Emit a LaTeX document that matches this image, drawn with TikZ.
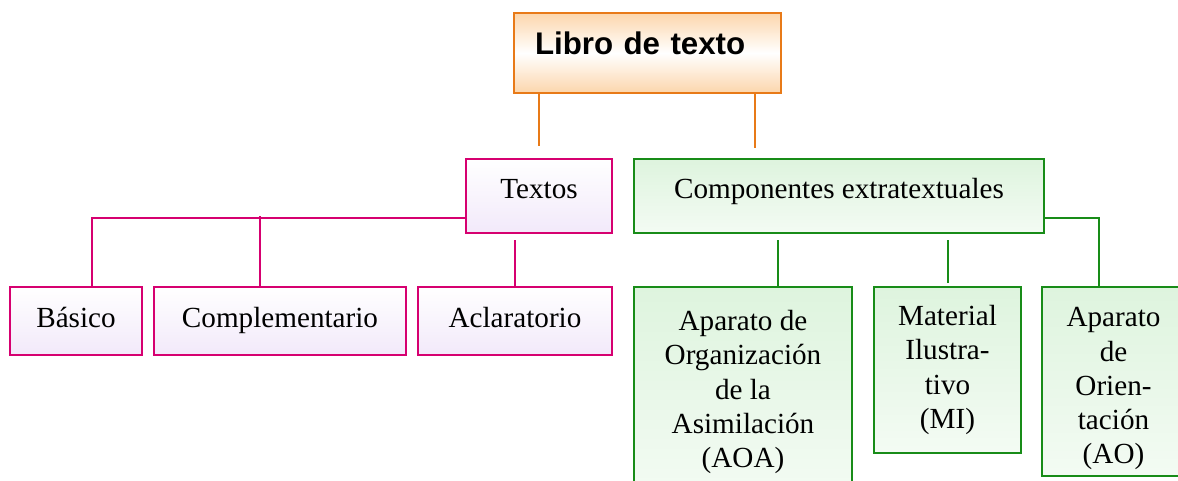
\documentclass[tikz,border=0pt]{standalone}
\usepackage{fontspec}
\setmainfont{Liberation Serif}
\newfontfamily\sansbold{Liberation Sans}
\usepackage{tikz}
\usetikzlibrary{calc}
\definecolor{naranjaborde}{RGB}{232,122,24}
\definecolor{naranjafondo}{RGB}{252,214,172}
\definecolor{rosaborde}{RGB}{214,0,112}
\definecolor{rosafondo}{RGB}{242,233,250}
\definecolor{verdeborde}{RGB}{24,140,24}
\definecolor{verdefondo}{RGB}{222,244,222}
\tikzstyle{naranja} = [
    rectangle,
    draw = naranjaborde,
    line width = 0.9pt,
    top color = naranjafondo,
    bottom color = naranjafondo,
    middle color = white,
]
\tikzstyle{rosa} = [
    rectangle,
    draw = rosaborde,
    line width = 0.9pt,
    top color = white,
    bottom color = rosafondo,
    inner ysep = 0pt,
    font = \fontsize{16.6}{19.3}\selectfont,
]
\tikzstyle{verde} = [
    rectangle,
    draw = verdeborde,
    line width = 0.9pt,
    top color = verdefondo,
    bottom color = verdefondo!35!white,
    align = center,
    font = \fontsize{16.6}{19.5}\selectfont,
]
\tikzstyle{lnaranja} = [draw = naranjaborde, line width = 0.9pt]
\tikzstyle{lrosa} = [draw = rosaborde, line width = 0.9pt]
\tikzstyle{lverde} = [draw = verdeborde, line width = 0.9pt]
\begin{document}
\begin{tikzpicture}
    \useasboundingbox (0,0) rectangle (23.56,9.62);

    \node (libro) [naranja, text width = 4.5cm, align = left, inner xsep = 0.42cm, inner ysep = 0pt, text height = 0.84cm, text depth = 0.76cm, font = \sansbold\bfseries\fontsize{17.8}{20}\selectfont] at (12.95,8.56) {Libro de texto};

    \node (textos) [rosa, minimum width = 2.92cm, text height = 0.8cm, text depth = 0.68cm] at (10.78,5.70) {Textos};
    \node (compon) [verde, minimum width = 8.2cm, inner ysep = 0pt, text height = 0.8cm, text depth = 0.68cm] at (16.78,5.70) {Componentes extratextuales};

    \node (basico) [rosa, minimum width = 2.64cm, text height = 0.82cm, text depth = 0.54cm] at (1.52,3.2) {Básico};
    \node (complem) [rosa, minimum width = 5.04cm, text height = 0.82cm, text depth = 0.54cm] at (5.6,3.2) {Complementario};
    \node (aclar) [rosa, minimum width = 3.88cm, text height = 0.82cm, text depth = 0.54cm] at (10.30,3.2) {Aclaratorio};

    \node (aoa) [verde, minimum width = 4.36cm, minimum height = 4.2cm] at (14.86,1.78) {Aparato de\\Organización\\de la\\Asimilación\\(AOA)};
    \node (mi) [verde, minimum width = 2.94cm, minimum height = 3.32cm] at (18.95,2.22) {Material\\Ilustra-\\tivo\\(MI)};
    \node (ao) [verde, minimum width = 2.86cm, minimum height = 3.78cm] at (22.27,1.99) {\rule{0pt}{0.68cm}Aparato\\de\\Orien-\\tación\\(AO)};

    \draw[lnaranja] (libro.south -| textos.north) -- ($(textos.north)+(0,0.24)$);
    \draw[lnaranja] ($(libro.south east)+(-0.54,0)$) -- ++(0,-1.08);

    \draw[lrosa] ($(textos.south west)+(0,0.32)$) -| ($(basico.north)+(0.32,0)$);
    \draw[lrosa] ($(complem.north)+(-0.4,0)$) -- ++(0,1.4);
    \draw[lrosa] (aclar.north) -- ++(0,0.92);

    \draw[lverde] ($(aoa.north)+(0.7,0)$) -- ++(0,0.92);
    \draw[lverde] ($(mi.north)+(0.01,0.06)$) -- ++(0,0.86);
    \draw[lverde] ($(compon.south east)+(0,0.32)$) -| ($(ao.north west)+(1.16,0)$);
\end{tikzpicture}
\end{document}
